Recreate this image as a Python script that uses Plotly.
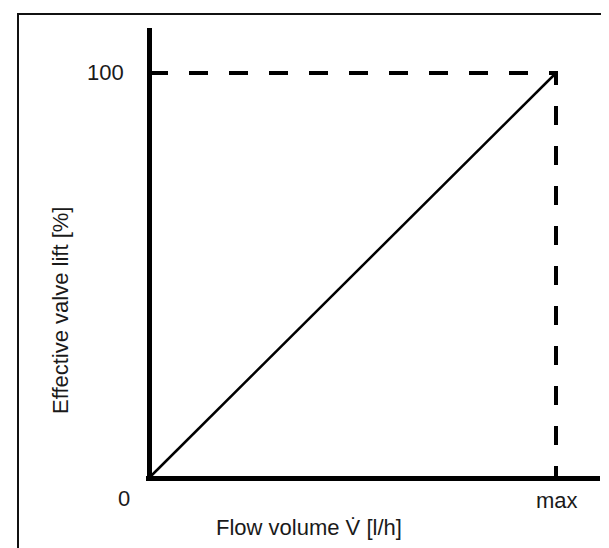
import plotly.graph_objects as go

# Data (flow volume relative to max, valve lift in %)
flow_volume = [0, 1]          # 0 .. max
valve_lift = [0, 100]         # %
guide_x = [0, 1, 1]           # dashed guide: to 100 % level, then down at max
guide_y = [100, 100, 0]
x_tick_vals = [0, 1]
x_tick_labels = ["0", "max"]
y_tick_vals = [100]
y_tick_labels = ["100"]
x_title = "Flow volume V\u0307 [l/h]"
y_title = "Effective valve lift [%]"

W, H = 609, 548
L, R, T, B = 138, 17, 20, 76
pw, ph = W - L - R, H - T - B

def px_x(p):
    return (p - L) / pw

def px_y(p):
    return (H - B - p) / ph

FONT = dict(family="Liberation Sans, Arial, Helvetica, sans-serif", size=22, color="#1a1a1a")

fig = go.Figure()
fig.add_trace(go.Scatter(x=guide_x, y=guide_y, mode="lines",
                         line=dict(color="black", width=4, dash="19px,21px"),
                         hoverinfo="skip", showlegend=False))
fig.add_trace(go.Scatter(x=flow_volume, y=valve_lift, mode="lines",
                         line=dict(color="black", width=2.5),
                         showlegend=False))

annotations = []
# y tick label
annotations.append(dict(text=y_tick_labels[0], xref="paper", x=px_x(138), yref="y", y=y_tick_vals[0],
                        xanchor="right", yanchor="middle", xshift=-20, yshift=1,
                        showarrow=False, font=FONT))
# x tick labels: "0" at the corner, "max" under the max position
annotations.append(dict(text=x_tick_labels[0], xref="x", x=x_tick_vals[0], yref="paper", y=px_y(490),
                        xanchor="center", yanchor="middle", xshift=-25,
                        showarrow=False, font=FONT))
annotations.append(dict(text=x_tick_labels[1], xref="x", x=x_tick_vals[1], yref="paper", y=px_y(492),
                        xanchor="center", yanchor="middle", xshift=1,
                        showarrow=False, font=FONT))
# axis titles
annotations.append(dict(text=x_title, xref="paper", x=px_x(301), yref="paper", y=px_y(519),
                        xanchor="center", yanchor="middle", showarrow=False, font=FONT))
annotations.append(dict(text=y_title, xref="paper", x=px_x(52), yref="paper", y=px_y(303),
                        xanchor="center", yanchor="middle", textangle=-90, showarrow=False, font=FONT))

fig.update_layout(
    width=W, height=H,
    margin=dict(l=L, r=R, t=T, b=B, pad=0),
    paper_bgcolor="white", plot_bgcolor="white",
    showlegend=False,
    annotations=annotations,
    shapes=[dict(type="rect", xref="paper", yref="paper",
                 x0=px_x(10), x1=px_x(614), y0=px_y(554), y1=px_y(6),
                 line=dict(color="#111111", width=2), fillcolor="rgba(0,0,0,0)", layer="below")],
)
fig.update_xaxes(range=[-3 / 407, (592 - 141) / 407], showgrid=False, showticklabels=False,
                 ticks="", zeroline=True, zerolinecolor="black", zerolinewidth=5,
                 showline=False, fixedrange=True)
fig.update_yaxes(range=[-2 / 4.05, (470 - 20) / 4.05], showgrid=False, showticklabels=False,
                 ticks="", zeroline=True, zerolinecolor="black", zerolinewidth=5,
                 showline=False, fixedrange=True)

fig.write_html("out.html")
